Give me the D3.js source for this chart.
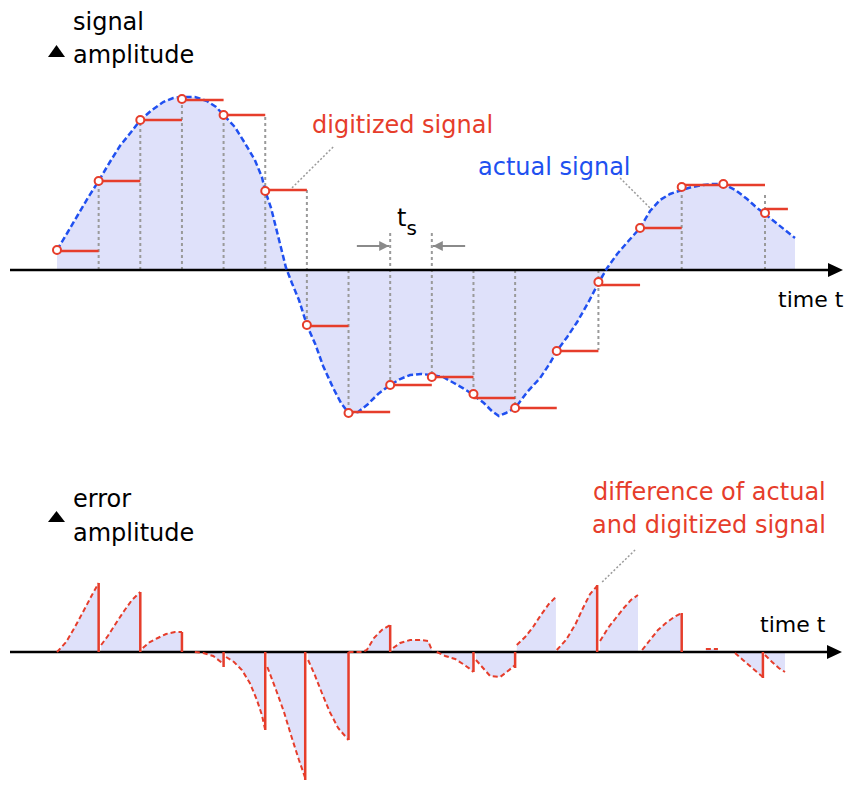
<!DOCTYPE html>
<html>
<head>
<meta charset="utf-8">
<title>Sampled signal and quantisation error</title>
<script src="https://d3js.org/d3.v7.min.js"></script>
<style>
    body {
        margin: 0;
        background: #fff;
    }
    svg text {
        font-family: "DejaVu Sans", Verdana, sans-serif;
        font-size: 24px;
    }
</style>
</head>
<body>
<div id="chart"></div>
<script>
    // actual signal: [time in sample periods, amplitude]
    var actualSignal = [
        [0,0.20],[0.26,0.38],[0.5,0.55],[0.74,0.72],[1,0.89],[1.27,1.08],[1.51,1.24],[1.78,1.38],
        [2,1.50],[2.28,1.60],[2.55,1.68],[2.79,1.72],[3,1.73],[3.31,1.73],[3.6,1.69],[3.82,1.63],
        [4,1.55],[4.27,1.43],[4.51,1.27],[4.75,1.10],[4.92,0.93],[5,0.79],[5.14,0.62],[5.26,0.42],
        [5.38,0.22],[5.5,0.02],[5.64,-0.13],[5.81,-0.30],[6,-0.55],[6.2,-0.74],[6.39,-0.96],[6.63,-1.18],
        [6.82,-1.33],[7,-1.43],[7.23,-1.42],[7.47,-1.34],[7.71,-1.24],[8,-1.15],[8.24,-1.09],[8.48,-1.05],
        [8.74,-1.04],[9,-1.05],[9.27,-1.07],[9.53,-1.13],[9.82,-1.20],[10,-1.25],[10.25,-1.33],[10.44,-1.41],
        [10.61,-1.46],[10.78,-1.43],[11,-1.38],[11.29,-1.22],[11.6,-1.08],[11.84,-0.93],[12,-0.81],[12.25,-0.67],
        [12.49,-0.52],[12.75,-0.33],[13,-0.13],[13.21,0.02],[13.45,0.16],[13.72,0.29],[14,0.42],[14.24,0.59],
        [14.48,0.70],[14.72,0.76],[15,0.80],[15.25,0.83],[15.51,0.85],[15.75,0.86],[16,0.86],[16.29,0.80],
        [16.57,0.71],[16.81,0.62],[17,0.56],[17.24,0.48],[17.48,0.40],[17.72,0.32]
    ];

    // samples
    var sampleT = [0,1,2,3,4,5,6,7,8,9,10,11,12,13,14,15,16,17];
    var sampleValues = [0.20,0.89,1.50,1.71,1.55,0.79,-0.55,-1.43,-1.15,-1.07,-1.24,-1.38,-0.81,-0.12,0.42,0.83,0.86,0.57];
    var heldLevels = [0.19,0.89,1.50,1.70,1.55,0.80,-0.56,-1.42,-1.15,-1.07,-1.28,-1.38,-0.81,-0.15,0.42,0.85,0.85,0.61];
    var holdEnd = 17.55;

    // dotted sample guides: [t, from, to]
    var guideLines = [
        [1,0,0.89],[2,0,1.50],[3,0,1.70],[4,0,1.53],[5,0,1.55],[6,0.80,-0.55],[7,0,-1.42],
        [8,0.37,-1.15],[9,0.37,-1.02],[10,0,-1.20],[11,0,-1.35],[13,0,-0.80],[15,0,0.77],[17,0,0.78]
    ];

    // error (actual - digitized), one segment per sample period
    var errorSegments = [
        [[0,0],[0.22,0.10],[0.43,0.25],[0.65,0.42],[0.84,0.57],[1,0.69]],
        [[1.06,0.07],[1.22,0.16],[1.42,0.29],[1.61,0.41],[1.8,0.52],[2,0.60]],
        [[2.06,0.04],[2.23,0.10],[2.42,0.14],[2.62,0.18],[2.83,0.20],[3,0.20]],
        [[3.31,0],[3.51,-0.01],[3.75,-0.04],[4,-0.12]],
        [[4.06,-0.05],[4.25,-0.10],[4.44,-0.18],[4.63,-0.31],[4.8,-0.48],[4.92,-0.63],[5,-0.78]],
        [[5.05,-0.15],[5.26,-0.38],[5.45,-0.60],[5.64,-0.86],[5.81,-1.08],[5.96,-1.26]],
        [[6.03,-0.08],[6.19,-0.23],[6.36,-0.41],[6.55,-0.60],[6.75,-0.76],[7,-0.88]],
        [[7,0],[7.32,0],[7.44,0.02],[7.61,0.14],[7.8,0.22],[8,0.27]],
        [[8.07,0.04],[8.24,0.09],[8.48,0.12],[8.72,0.12],[8.91,0.11],[9,0.02]],
        [[9.12,0],[9.32,-0.04],[9.56,-0.07],[9.75,-0.12],[9.92,-0.17],[10,-0.20]],
        [[10.06,-0.08],[10.23,-0.16],[10.4,-0.24],[10.64,-0.25],[10.8,-0.20],[11,-0.13]],
        [[11.04,0.07],[11.24,0.15],[11.43,0.25],[11.62,0.37],[11.81,0.48],[11.98,0.55]],
        [[12,0.02],[12.22,0.12],[12.44,0.27],[12.63,0.44],[12.8,0.58],[12.97,0.66]],
        [[13.04,0.11],[13.23,0.24],[13.42,0.34],[13.61,0.44],[13.78,0.52],[13.95,0.57]],
        [[14.05,0.02],[14.24,0.12],[14.43,0.22],[14.62,0.29],[14.82,0.35],[15,0.39]],
        [[15.58,0.03],[15.87,0.03]],
        [[16.28,-0.01],[16.47,-0.08],[16.69,-0.16],[16.95,-0.25]],
        [[17,-0.03],[17.17,-0.10],[17.33,-0.16],[17.48,-0.20]]
    ];
    // solid jumps back to zero at the sample instants: [t, error]
    var errorJumps = [
        [1,0.69],[2,0.60],[3,0.20],[4,-0.15],[5,-0.78],[5.96,-1.28],[7,-0.88],[8,0.27],
        [10,-0.20],[11,-0.16],[12.97,0.67],[15,0.39],[16.95,-0.26]
    ];

    const width = 847, height = 787;
    const red = "#e63d2b", blue = "#2050f0", fill = "#dfe1fa", grey = "#9a9a9a";

    var x = d3.scaleLinear().domain([0, 17]).range([57, 765]);
    var yTop = d3.scaleLinear().domain([-2, 2]).range([470, 70]);
    var yBot = d3.scaleLinear().domain([-2, 2]).range([852, 452]);

    var svg = d3.select("#chart").append("svg")
        .attr("width", width)
        .attr("height", height);

    var defs = svg.append("defs");
    defs.append("marker")
        .attr("id", "tsArrow")
        .attr("viewBox", "0 0 10 10")
        .attr("refX", 10).attr("refY", 5)
        .attr("markerWidth", 5).attr("markerHeight", 5)
        .attr("orient", "auto")
        .append("path")
        .attr("d", "M0,0L10,5L0,10Z")
        .attr("fill", "#8a8a8a");

    // ---------- top panel: signal ----------
    var gTop = svg.append("g");

    gTop.append("path")
        .datum(actualSignal)
        .attr("fill", fill)
        .attr("d", d3.area().x(d => x(d[0])).y0(yTop(0)).y1(d => yTop(d[1])));

    gTop.selectAll(".guide")
        .data(guideLines)
        .enter().append("line")
        .attr("x1", d => x(d[0])).attr("x2", d => x(d[0]))
        .attr("y1", d => yTop(d[1])).attr("y2", d => yTop(d[2]))
        .attr("stroke", grey)
        .attr("stroke-width", 2)
        .attr("stroke-dasharray", "3,3");

    // axis
    gTop.append("line")
        .attr("x1", 10).attr("x2", 832)
        .attr("y1", yTop(0)).attr("y2", yTop(0))
        .attr("stroke", "#000").attr("stroke-width", 2.5);
    gTop.append("path")
        .attr("d", "M843," + yTop(0) + "l-15,-7l0,14z")
        .attr("fill", "#000");

    gTop.append("path")
        .datum(actualSignal)
        .attr("fill", "none")
        .attr("stroke", blue)
        .attr("stroke-width", 2.5)
        .attr("stroke-dasharray", "6,3")
        .attr("d", d3.line().x(d => x(d[0])).y(d => yTop(d[1])));

    gTop.selectAll(".hold")
        .data(sampleT)
        .enter().append("line")
        .attr("x1", d => x(d))
        .attr("x2", d => x(Math.min(d + 1, holdEnd)))
        .attr("y1", (d, i) => yTop(heldLevels[i]))
        .attr("y2", (d, i) => yTop(heldLevels[i]))
        .attr("stroke", red)
        .attr("stroke-width", 2.5);

    gTop.selectAll(".sample")
        .data(sampleT)
        .enter().append("circle")
        .attr("cx", d => x(d))
        .attr("cy", (d, i) => yTop(sampleValues[i]))
        .attr("r", 4)
        .attr("fill", "#fff")
        .attr("stroke", red)
        .attr("stroke-width", 2);

    // t_s markers
    gTop.append("line")
        .attr("x1", x(7.2)).attr("x2", x(8) - 1)
        .attr("y1", yTop(0.24)).attr("y2", yTop(0.24))
        .attr("stroke", "#8a8a8a").attr("stroke-width", 2)
        .attr("marker-end", "url(#tsArrow)");
    gTop.append("line")
        .attr("x1", x(9.8)).attr("x2", x(9) + 1)
        .attr("y1", yTop(0.24)).attr("y2", yTop(0.24))
        .attr("stroke", "#8a8a8a").attr("stroke-width", 2)
        .attr("marker-end", "url(#tsArrow)");
    var ts = gTop.append("text").attr("x", 397).attr("y", 226).attr("fill", "#000");
    ts.append("tspan").text("t");
    ts.append("tspan").attr("dy", 9).style("font-size", "20px").text("s");

    // leaders
    gTop.append("line")
        .attr("x1", x(6.63)).attr("y1", yTop(1.23))
        .attr("x2", x(5.64)).attr("y2", yTop(0.82))
        .attr("stroke", grey).attr("stroke-width", 1.5).attr("stroke-dasharray", "2,2");
    gTop.append("line")
        .attr("x1", x(13.52)).attr("y1", yTop(0.92))
        .attr("x2", x(14.24)).attr("y2", yTop(0.62))
        .attr("stroke", grey).attr("stroke-width", 1.5).attr("stroke-dasharray", "2,2");

    // labels
    gTop.append("path").attr("d", "M48,57L65,57L56.5,45Z").attr("fill", "#000");
    gTop.append("text").attr("x", 73).attr("y", 30).text("signal");
    gTop.append("text").attr("x", 73).attr("y", 63).text("amplitude");
    gTop.append("text").attr("x", 312).attr("y", 133).attr("fill", red).text("digitized signal");
    gTop.append("text").attr("x", 478).attr("y", 175).attr("fill", blue).text("actual signal");
    gTop.append("text").attr("x", 778).attr("y", 307).style("font-size", "22px").text("time t");

    // ---------- bottom panel: error ----------
    var gBot = svg.append("g");

    gBot.selectAll(".errFill")
        .data(errorSegments)
        .enter().append("path")
        .attr("fill", fill)
        .attr("d", d3.area().x(d => x(d[0])).y0(yBot(0)).y1(d => yBot(d[1])));

    gBot.append("line")
        .attr("x1", 10).attr("x2", 830)
        .attr("y1", yBot(0)).attr("y2", yBot(0))
        .attr("stroke", "#000").attr("stroke-width", 2.5);
    gBot.append("path")
        .attr("d", "M842," + yBot(0) + "l-15,-7l0,14z")
        .attr("fill", "#000");

    gBot.selectAll(".errLine")
        .data(errorSegments)
        .enter().append("path")
        .attr("fill", "none")
        .attr("stroke", red)
        .attr("stroke-width", 2)
        .attr("stroke-dasharray", "5,3")
        .attr("d", d3.line().x(d => x(d[0])).y(d => yBot(d[1])));

    gBot.selectAll(".jump")
        .data(errorJumps)
        .enter().append("line")
        .attr("x1", d => x(d[0])).attr("x2", d => x(d[0]))
        .attr("y1", yBot(0)).attr("y2", d => yBot(d[1]))
        .attr("stroke", red)
        .attr("stroke-width", 2.5);

    gBot.append("line")
        .attr("x1", x(13.09)).attr("y1", yBot(0.70))
        .attr("x2", x(13.88)).attr("y2", yBot(1.02))
        .attr("stroke", grey).attr("stroke-width", 1.5).attr("stroke-dasharray", "2,2");

    gBot.append("path").attr("d", "M48,522L65,522L56.5,511Z").attr("fill", "#000");
    gBot.append("text").attr("x", 73).attr("y", 507).text("error");
    gBot.append("text").attr("x", 73).attr("y", 541).text("amplitude");
    gBot.append("text").attr("x", 593).attr("y", 500).attr("fill", red).text("difference of actual");
    gBot.append("text").attr("x", 592).attr("y", 533).attr("fill", red).text("and digitized signal");
    gBot.append("text").attr("x", 760).attr("y", 632).style("font-size", "22px").text("time t");
</script>
</body>
</html>
